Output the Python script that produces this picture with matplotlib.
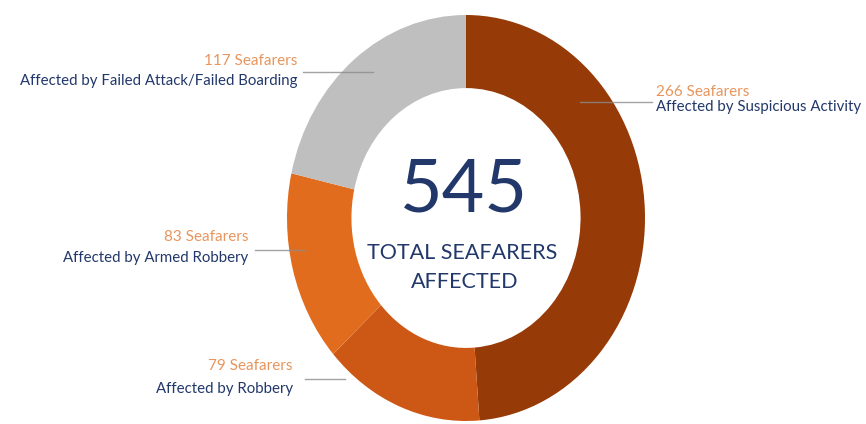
import matplotlib
matplotlib.use("Agg")
import matplotlib.pyplot as plt

# Seafarers affected, by incident type (clockwise from 12 o'clock)
categories = ["Suspicious Activity", "Robbery", "Armed Robbery", "Failed Attack/Failed Boarding"]
counts = [266, 79, 83, 117]
total = sum(counts)
colors = ["#963a07", "#cd5714", "#e16c1d", "#bfbfbf"]

W, H = 866, 424
fig = plt.figure(figsize=(W / 100, H / 100), dpi=100)
fig.patch.set_facecolor("white")

# Donut axes (slightly taller than wide)
cx, cy, rx, ry = 466, 218, 179, 203
ax = fig.add_axes([(cx - rx) / W, (H - cy - ry) / H, 2 * rx / W, 2 * ry / H])
ax.pie(counts, colors=colors, startangle=90, counterclock=False, radius=1.0,
       wedgeprops=dict(width=0.36, edgecolor="none", linewidth=0))
ax.set_aspect("auto")
ax.set_xlim(-1, 1)
ax.set_ylim(-1, 1)
ax.axis("off")

# Overlay in pixel coordinates for text and leader lines
ov = fig.add_axes([0, 0, 1, 1], zorder=5)
ov.set_xlim(0, W)
ov.set_ylim(H, 0)
ov.axis("off")
ov.patch.set_alpha(0)

navy = "#22386a"
orange = "#e8955d"
font = "Lato"

ov.text(cx - 2, 191, f"{total}", ha="center", va="center", fontsize=53,
        color=navy, family=font, fontweight="normal")
ov.text(cx - 4, 253, "TOTAL SEAFARERS", ha="center", va="center", fontsize=15.5,
        color=navy, family=font)
ov.text(cx - 1, 282, "AFFECTED", ha="center", va="center", fontsize=15.5,
        color=navy, family=font)

# (category index, anchor x, number y, description y, alignment, line y, line x0, line x1)
label_layout = [
    (3, 297, 61, 81, "right", 72, 303, 373),
    (0, 656, 92, 107, "left", 102, 580, 652),
    (2, 248, 237, 258, "right", 250, 255, 305),
    (1, 293, 366, 389, "right", 379, 305, 345),
]
for idx, x, yn, yd, ha, yl, x0, x1 in label_layout:
    ov.text(x, yn, f"{counts[idx]} Seafarers", ha=ha, va="center", fontsize=11,
            color=orange, family=font)
    ov.text(x, yd, f"Affected by {categories[idx]}", ha=ha, va="center", fontsize=10.8,
            color=navy, family=font)
    ov.plot([x0, x1], [yl, yl], color="#8c8c8c", lw=1.0, alpha=0.8)

fig.savefig("out.png", dpi=100, facecolor="white")
